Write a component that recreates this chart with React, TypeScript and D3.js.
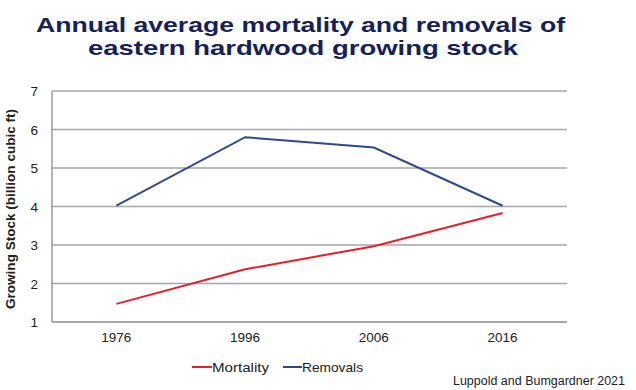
import React from "react";
import * as d3 from "d3";

const years = ["1976", "1996", "2006", "2016"];
const mortality = [1.47, 2.37, 2.97, 3.83];
const removals = [4.02, 5.8, 5.53, 4.02];
const yTicks = [1, 2, 3, 4, 5, 6, 7];
const seriesNames = ["Mortality", "Removals"];
const seriesColors = ["#e3202c", "#2e4a8a"];
const titleLines = ["Annual average mortality and removals of", "eastern hardwood growing stock"];
const yLabel = "Growing Stock (billion cubic ft)";
const credit = "Luppold and Bumgardner 2021";

export default function App() {
  const W = 636, H = 390;
  const left = 52, right = 567, top = 91, bottom = 322;
  const x = d3.scaleBand<string>().domain(years).range([left, right]);
  const y = d3.scaleLinear().domain([1, 7]).range([bottom, top]);
  const line = d3
    .line<number>()
    .x((_, i) => (x(years[i]) as number) + x.bandwidth() / 2)
    .y((d) => y(d));
  const series = [mortality, removals];
  const font = "Liberation Sans, Arial, sans-serif";
  const titleGeom = [
    { x: 36, y: 31.5, len: 529 },
    { x: 88, y: 55, len: 430 },
  ];
  const legendGeom = [
    { lx: 192, tx: 212, len: 57 },
    { lx: 283, tx: 302, len: 61 },
  ];
  return (
    <svg
      width={W}
      height={H}
      style={{ position: "absolute", left: 0, top: 0, background: "#fff" }}
      fontFamily={font}
    >
      <rect width={W} height={H} fill="#fff" />
      {titleLines.map((t, i) => (
        <text
          key={t}
          x={titleGeom[i].x}
          y={titleGeom[i].y}
          textLength={titleGeom[i].len}
          lengthAdjust="spacingAndGlyphs"
          fontSize={21}
          fontWeight="bold"
          fill="#14215a"
        >
          {t}
        </text>
      ))}
      {yTicks.map((t) => (
        <g key={t}>
          {t > 1 && (
            <line x1={left} x2={right} y1={y(t)} y2={y(t)} stroke="#a6a6a6" strokeWidth={1.3} />
          )}
          <text x={38} y={y(t) + 5} textAnchor="end" fontSize={13.5} fill="#222">
            {t}
          </text>
        </g>
      ))}
      <line x1={left} x2={left} y1={top} y2={bottom} stroke="#8c8c8c" strokeWidth={1.3} />
      <line x1={left} x2={right} y1={bottom} y2={bottom} stroke="#8c8c8c" strokeWidth={1.3} />
      {years.map((yr) => (
        <text
          key={yr}
          x={(x(yr) as number) + x.bandwidth() / 2}
          y={342}
          textAnchor="middle"
          fontSize={13.5}
          fill="#222"
        >
          {yr}
        </text>
      ))}
      <text
        transform={`translate(15,209) rotate(-90)`}
        textAnchor="middle"
        fontSize={13}
        fontWeight="bold"
        fill="#222"
        textLength={200}
        lengthAdjust="spacingAndGlyphs"
      >
        {yLabel}
      </text>
      {series.map((s, i) => (
        <path key={i} d={line(s) as string} fill="none" stroke={seriesColors[i]} strokeWidth={2} />
      ))}
      {seriesNames.map((n, i) => (
        <g key={n}>
          <line
            x1={legendGeom[i].lx}
            x2={legendGeom[i].tx}
            y1={367}
            y2={367}
            stroke={seriesColors[i]}
            strokeWidth={2}
          />
          <text
            x={legendGeom[i].tx}
            y={371.5}
            fontSize={13}
            fill="#222"
            textLength={legendGeom[i].len}
            lengthAdjust="spacingAndGlyphs"
          >
            {n}
          </text>
        </g>
      ))}
      <text
        x={453}
        y={385}
        fontSize={12}
        fill="#222"
        textLength={172}
        lengthAdjust="spacingAndGlyphs"
      >
        {credit}
      </text>
    </svg>
  );
}
